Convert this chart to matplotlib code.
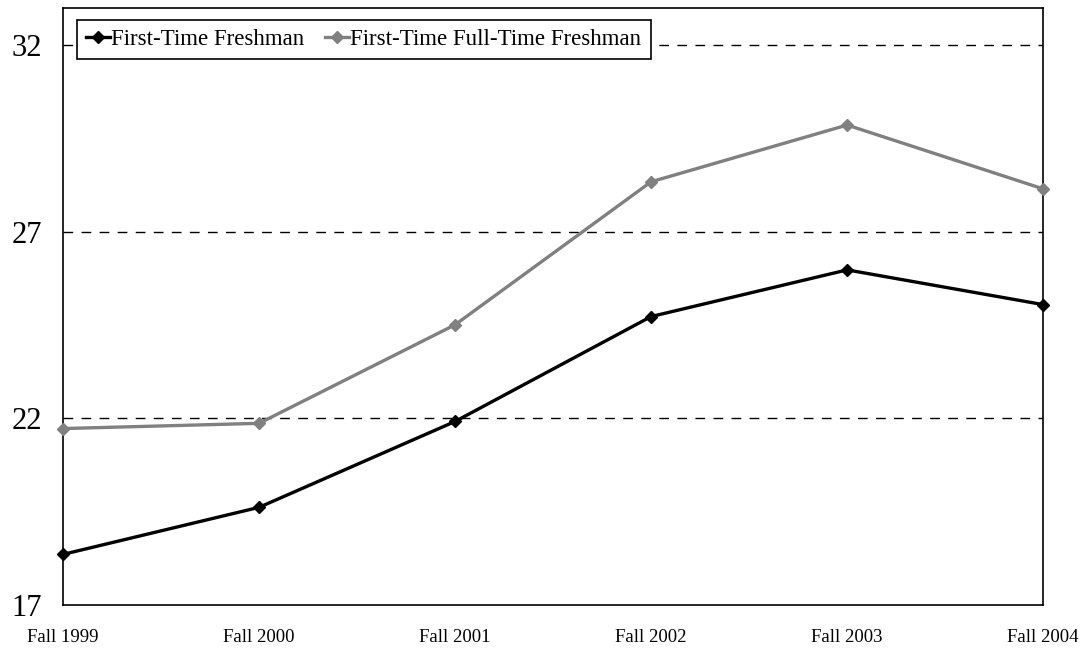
import matplotlib.pyplot as plt

years = ["Fall 1999", "Fall 2000", "Fall 2001", "Fall 2002", "Fall 2003", "Fall 2004"]
first_time = [18.36, 19.62, 21.92, 24.73, 25.98, 25.05]
first_time_full = [21.73, 21.87, 24.51, 28.34, 29.86, 28.15]
yticks = [17, 22, 27, 32]

plt.rcParams['font.family'] = ['Liberation Serif', 'DejaVu Serif']

fig = plt.figure(figsize=(10.81, 6.5), dpi=100)
ax = fig.add_axes([0.0583, 0.069, 0.9067, 0.919])

x = range(len(years))
ax.plot(x, first_time, color='black', lw=2.4, marker='D', ms=6.5,
        label='First-Time Freshman', clip_on=False, zorder=3)
ax.plot(x, first_time_full, color='#808080', lw=2.4, marker='D', ms=6.5,
        label='First-Time Full-Time Freshman', clip_on=False, zorder=3)

ax.set_xlim(0, len(years) - 1)
ax.set_ylim(17, 33)
ax.set_xticks(list(x))
ax.set_xticklabels(years, fontsize=13.5)
ax.set_yticks(yticks)
ax.set_yticklabels([str(v) for v in yticks], fontsize=22)
ax.tick_params(axis='x', length=0, pad=17)
ax.tick_params(axis='y', length=0, pad=15)

# dashed gridlines (none at the bottom value)
for v in yticks[1:]:
    ax.axhline(v, color='black', lw=1.0, ls=(0, (7, 6)), zorder=1)

for s in ax.spines.values():
    s.set_linewidth(1.2)

leg = ax.legend(loc='upper left', ncol=2, fontsize=16.5, frameon=True,
                fancybox=False, edgecolor='black', framealpha=1,
                handlelength=1.05, handletextpad=0.05, columnspacing=0.9,
                borderpad=0.4, borderaxespad=0, bbox_to_anchor=(0.0143, 0.98))
leg.get_frame().set_linewidth(1.2)

fig.savefig('out.png', dpi=100)
